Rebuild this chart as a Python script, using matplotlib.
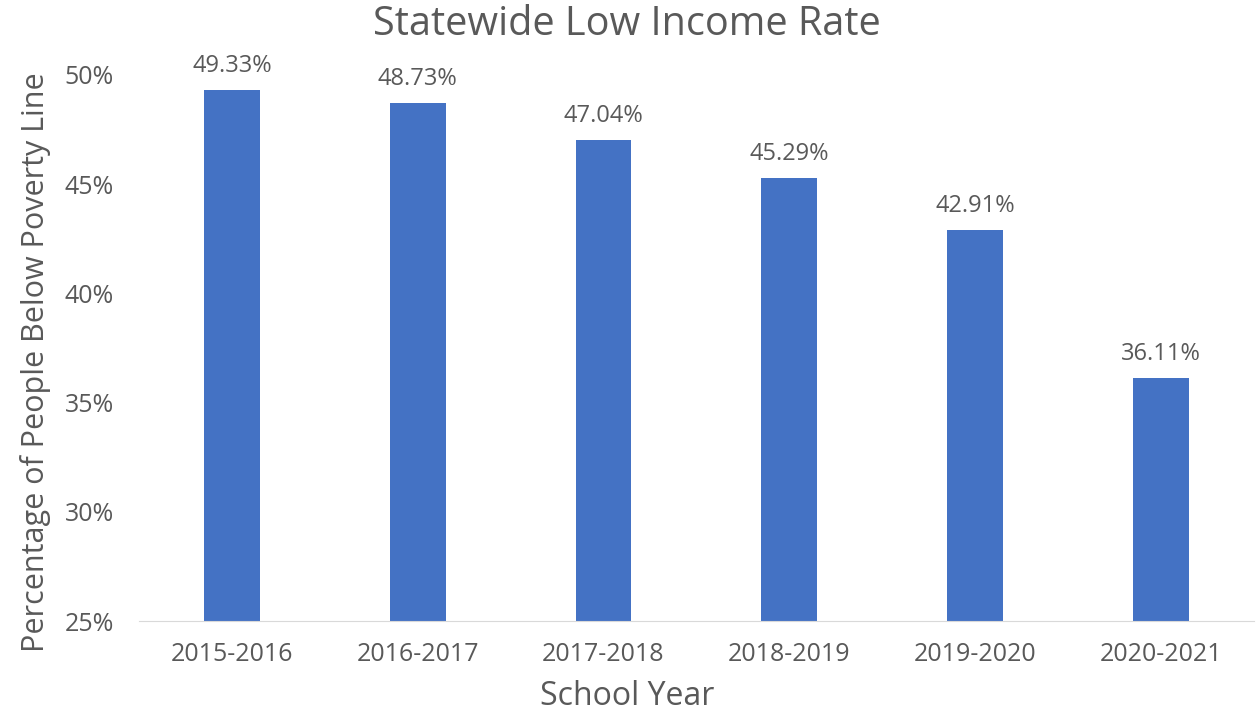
import matplotlib.pyplot as plt
from matplotlib.ticker import FuncFormatter

plt.rcParams['font.family'] = ['Open Sans', 'DejaVu Sans']

years = ['2015-2016', '2016-2017', '2017-2018', '2018-2019', '2019-2020', '2020-2021']
rates = [49.33, 48.73, 47.04, 45.29, 42.91, 36.11]

bar_color = '#4472C4'
text_color = '#595959'

fig = plt.figure(figsize=(12.58, 7.14), dpi=100)
ax = fig.add_axes([0.1105, 0.130, 0.886, 0.765])

x = range(len(years))
ax.bar(x, rates, width=0.30, color=bar_color, zorder=2)
ax.set_ylim(25, 50)
ax.set_xlim(-0.5, len(years) - 0.5)

# value labels above bars
for i, v in zip(x, rates):
    ax.text(i, v + 0.55, f'{v:.2f}%', ha='center', va='bottom',
            fontsize=17, color=text_color, clip_on=False)

ax.set_yticks([25, 30, 35, 40, 45, 50])
ax.yaxis.set_major_formatter(FuncFormatter(lambda v, p: f'{v:.0f}%'))
ax.set_xticks(list(x))
ax.set_xticklabels(years)
ax.tick_params(axis='both', length=0, labelsize=18, colors=text_color)
ax.tick_params(axis='x', pad=15)
ax.tick_params(axis='y', pad=18)

for s in ['top', 'right', 'left']:
    ax.spines[s].set_visible(False)
ax.spines['bottom'].set_color('#D9D9D9')

ax.set_xlabel('School Year', fontsize=23, color=text_color, labelpad=9)
ax.xaxis.label.set_x(0.438)
ax.set_ylabel('Percentage of People Below Poverty Line', fontsize=22,
              color=text_color, labelpad=10)
ax.yaxis.label.set_y(0.475)
fig.text(0.498, 0.966, 'Statewide Low Income Rate',
         ha='center', va='center', fontsize=28.5, color=text_color)

fig.savefig('out.png', dpi=100)
